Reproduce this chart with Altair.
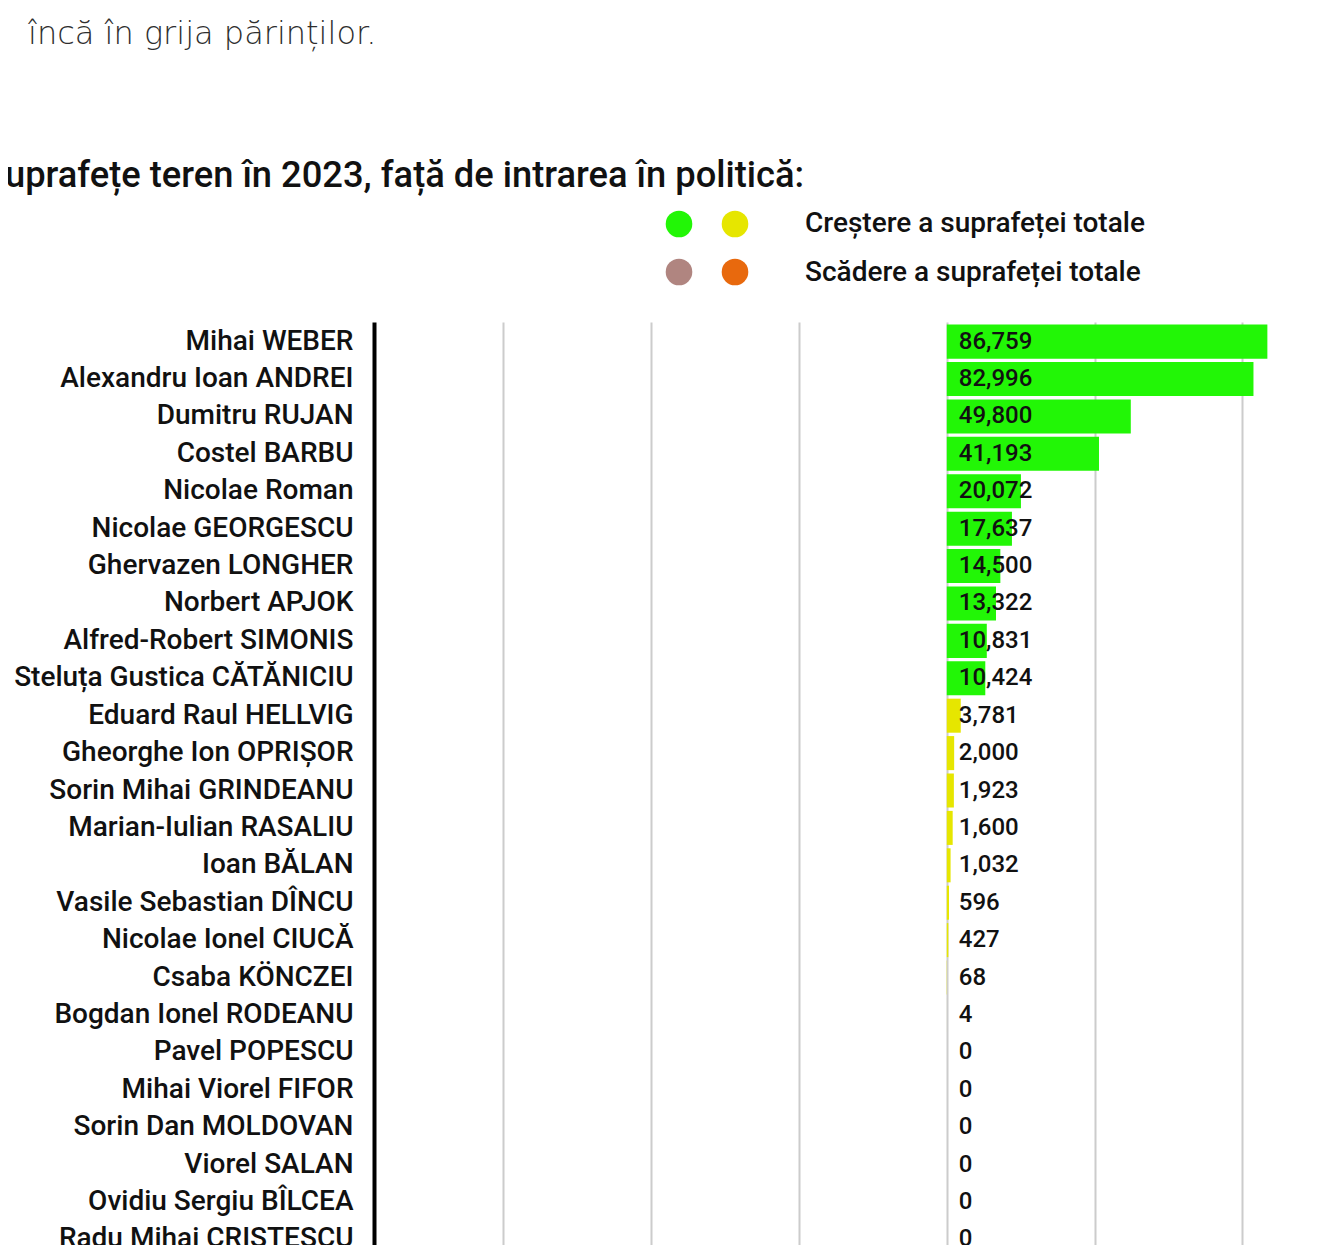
import altair as alt
import pandas as pd

# ---- data -------------------------------------------------------------
nume = [
    "Mihai WEBER", "Alexandru Ioan ANDREI", "Dumitru RUJAN", "Costel BARBU",
    "Nicolae Roman", "Nicolae GEORGESCU", "Ghervazen LONGHER", "Norbert APJOK",
    "Alfred-Robert SIMONIS", "Steluța Gustica CĂTĂNICIU", "Eduard Raul HELLVIG",
    "Gheorghe Ion OPRIȘOR", "Sorin Mihai GRINDEANU", "Marian-Iulian RASALIU",
    "Ioan BĂLAN", "Vasile Sebastian DÎNCU", "Nicolae Ionel CIUCĂ", "Csaba KÖNCZEI",
    "Bogdan Ionel RODEANU", "Pavel POPESCU", "Mihai Viorel FIFOR",
    "Sorin Dan MOLDOVAN", "Viorel SALAN", "Ovidiu Sergiu BÎLCEA",
    "Radu Mihai CRISTESCU",
]
valori = [
    86759, 82996, 49800, 41193, 20072, 17637, 14500, 13322, 10831, 10424,
    3781, 2000, 1923, 1600, 1032, 596, 427, 68, 4, 0, 0, 0, 0, 0, 0,
]
categorii = ["verde"] * 10 + ["galben"] * 15

categorii_legenda = ["verde", "galben", "maro", "portocaliu"]
culori_legenda = ["#22f606", "#e6e600", "#b08580", "#e8690d"]
texte_legenda = ["Creștere a suprafeței totale", "Scădere a suprafeței totale"]

text_intro = "încă în grija părinților."
titlu = "Suprafețe teren în 2023, față de intrarea în politică:"

domeniu_x = [-155000, 87200]
linii_grila = [-120000, -80000, -40000, 0, 40000, 80000]

df = pd.DataFrame({"nume": nume, "valoare": valori, "categorie": categorii})

FONT = "Roboto"

x_scale = alt.Scale(domain=domeniu_x, nice=False, zero=True)
y_enc = alt.Y(
    "nume:N",
    sort=nume,
    scale=alt.Scale(paddingInner=0.09, paddingOuter=0.07),
    axis=alt.Axis(
        title=None, labelFont=FONT, labelFontSize=28, labelFontWeight=500,
        labelColor="#111111", labelPadding=21, labelLimit=500,
        domainColor="#000000", domainWidth=4, ticks=False, grid=False,
    ),
)

bars = alt.Chart(df).mark_bar().encode(
    y=y_enc,
    x=alt.X(
        "valoare:Q", scale=x_scale,
        axis=alt.Axis(title=None, labels=False, ticks=False, domain=False,
                      values=linii_grila, grid=True, gridColor="#cccccc",
                      gridWidth=2),
    ),
    color=alt.Color(
        "categorie:N",
        scale=alt.Scale(domain=categorii_legenda, range=culori_legenda),
        legend=None,
    ),
)

labels = alt.Chart(df).mark_text(
    align="left", baseline="middle", dx=12, font=FONT, fontSize=24,
    fontWeight=500, color="#111111",
).encode(
    y=alt.Y("nume:N", sort=nume),
    x=alt.datum(0),
    text=alt.Text("valoare:Q", format=",.0f"),
)

# ---- header texts -----------------------------------------------------
intro = alt.Chart(pd.DataFrame({"t": [text_intro]})).mark_text(
    align="left", baseline="alphabetic", font="DejaVu Sans", fontSize=32,
    fontWeight=300, color="#2e2e2e",
).encode(x=alt.value(-346), y=alt.value(-278), text="t:N")

title = alt.Chart(pd.DataFrame({"t": [titlu]})).mark_text(
    align="left", baseline="alphabetic", font=FONT, fontSize=36.3,
    fontWeight=500, color="#111111",
).encode(x=alt.value(-391), y=alt.value(-135), text="t:N")

leg_layers = []
pos = [(305, -98), (361, -98), (305, -50), (361, -50)]
for (px, py), col in zip(pos, culori_legenda):
    leg_layers.append(
        alt.Chart(pd.DataFrame({"c": [col]})).mark_circle(
            size=707, opacity=1, color=col
        ).encode(x=alt.value(px), y=alt.value(py))
    )
for i, txt in enumerate(texte_legenda):
    leg_layers.append(
        alt.Chart(pd.DataFrame({"t": [txt]})).mark_text(
            align="left", baseline="middle", font=FONT, fontSize=28,
            fontWeight=500, color="#111111",
        ).encode(x=alt.value(431), y=alt.value(-98 + 49 * i), text="t:N")
    )

chart = alt.layer(bars, labels, intro, title, *leg_layers).resolve_scale(
    x="shared", y="shared"
).properties(
    width=895,
    height=937,
    padding={"left": 366, "top": 314, "right": 40, "bottom": 0},
    autosize=alt.AutoSizeParams(type="none"),
).configure_view(stroke=None)

chart.save("out.html", embed_options={"renderer": "svg", "actions": False})
